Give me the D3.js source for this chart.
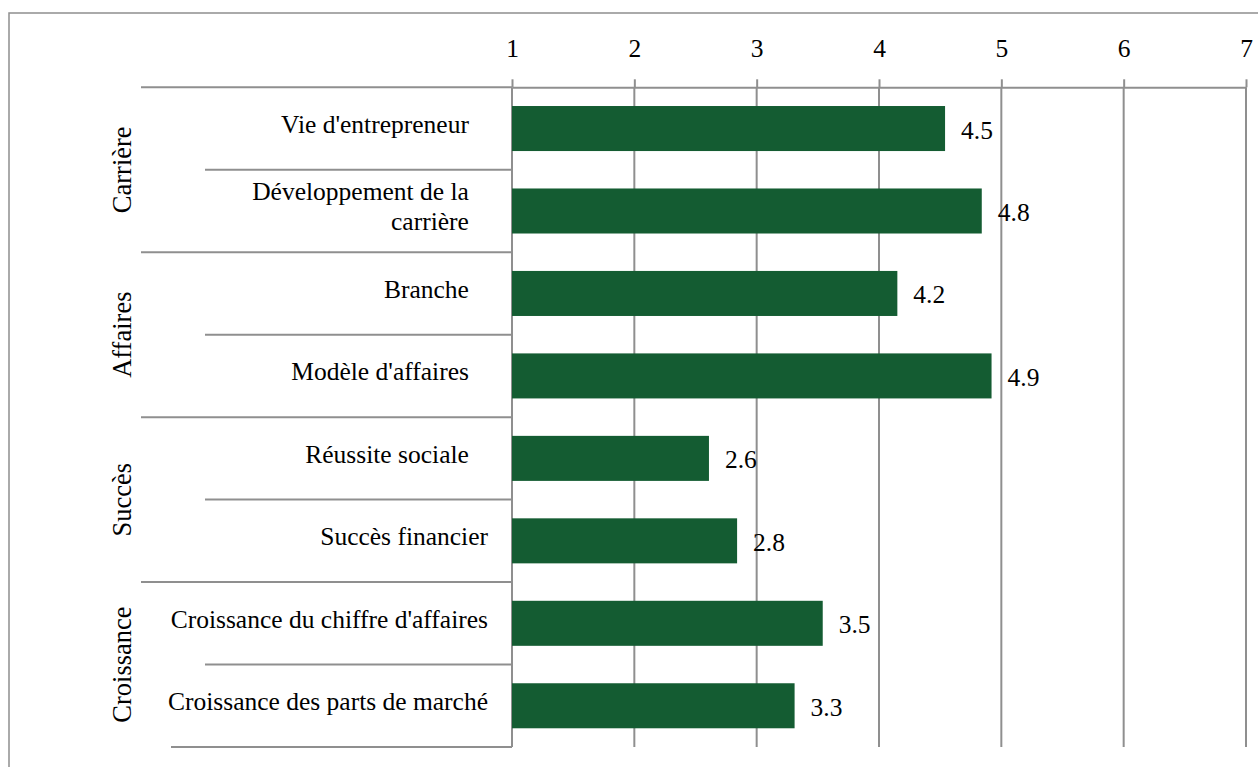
<!DOCTYPE html>
<html>
<head>
<meta charset="utf-8">
<script src="https://cdn.jsdelivr.net/npm/d3@7"></script>
<style>
  html, body { margin: 0; padding: 0; background: #fff; }
  svg { display: block; }
  svg text { font-family: 'Liberation Serif', 'Tinos', 'Times New Roman', 'DejaVu Serif', serif; }
</style>
</head>
<body>
<div id="chart"></div>
<script>
// Data
const groups = ["Carrière", "Affaires", "Succès", "Croissance"];
const categories = [
    "Vie d'entrepreneur\u00a0\u00a0\u00a0",
    "Développement de la\u00a0\u00a0\u00a0\ncarrière\u00a0\u00a0\u00a0",
    "Branche\u00a0\u00a0\u00a0",
    "Modèle d'affaires\u00a0\u00a0\u00a0",
    "Réussite sociale\u00a0\u00a0\u00a0",
    "Succès financier",
    "Croissance du chiffre d'affaires",
    "Croissance des parts de marché"
];
const categoryGroups = ["Carrière", "Carrière", "Affaires", "Affaires", "Succès", "Succès", "Croissance", "Croissance"];
const values = [4.54, 4.84, 4.15, 4.92, 2.61, 2.84, 3.54, 3.31];
const tickValues = [1, 2, 3, 4, 5, 6, 7];

const width = 1258, height = 767;
const plot = { left: 512, right: 1246, top: 87.3, bottom: 747 };
const barColor = '#145c32';
const lineColor = '#8f8f8f';

const data = categories.map((c, i) => ({ category: c, group: categoryGroups[i], value: values[i] }));

const svg = d3.select('#chart').append('svg')
    .attr('width', width)
    .attr('height', height);

svg.append('rect')
    .attr('width', width).attr('height', height)
    .attr('fill', '#fff');

// outer chart border (runs past the right and bottom edge)
svg.append('rect')
    .attr('x', 9).attr('y', 13)
    .attr('width', width + 20).attr('height', height + 20)
    .attr('fill', 'none')
    .attr('stroke', lineColor)
    .attr('stroke-width', 1.5);

// Scales
const x = d3.scaleLinear([1, 7], [plot.left, plot.right]);
const rows = d3.scaleBand(categories, [plot.top, plot.bottom]);
const y = d3.scaleBand(categories, [plot.top, plot.bottom])
    .paddingInner(0.454)
    .paddingOuter(0.227);

// Vertical gridlines
svg.append('g').selectAll('line')
    .data(tickValues)
    .join('line')
    .attr('x1', d => x(d)).attr('x2', d => x(d))
    .attr('y1', plot.top).attr('y2', plot.bottom)
    .attr('stroke', lineColor)
    .attr('stroke-width', 2);

// Top axis
const axis = svg.append('g')
    .attr('transform', `translate(0,${plot.top})`)
    .call(d3.axisTop(x).tickValues(tickValues).tickSize(8).tickSizeOuter(0).tickPadding(22).tickFormat(d3.format('d')));

axis.attr('font-family', null);
axis.select('.domain').attr('stroke', lineColor).attr('stroke-width', 2);
axis.selectAll('.tick line').attr('stroke', lineColor).attr('stroke-width', 2);
axis.selectAll('.tick text')
    .attr('fill', '#000')
    .style('font-size', '25.5px');

// Category separator lines (long at group boundaries, short inside a group)
const boundaries = d3.range(categories.length + 1);
svg.append('g').selectAll('line')
    .data(boundaries)
    .join('line')
    .attr('x1', i => {
        if (i === categories.length) return 171;
        return (i === 0 || categoryGroups[i] !== categoryGroups[i - 1]) ? 141 : 205;
    })
    .attr('x2', plot.left)
    .attr('y1', i => i < categories.length ? rows(categories[i]) : plot.bottom)
    .attr('y2', i => i < categories.length ? rows(categories[i]) : plot.bottom)
    .attr('stroke', lineColor)
    .attr('stroke-width', 2);

// Bars
svg.append('g').selectAll('rect')
    .data(data)
    .join('rect')
    .attr('x', x(1))
    .attr('y', d => y(d.category))
    .attr('width', d => x(d.value) - x(1))
    .attr('height', y.bandwidth())
    .attr('fill', barColor);

// Value labels
svg.append('g').selectAll('text')
    .data(data)
    .join('text')
    .attr('x', d => x(d.value) + 16)
    .attr('y', d => y(d.category) + y.bandwidth() / 2 + 10)
    .style('font-size', '25.5px')
    .attr('fill', '#000')
    .text(d => d3.format('.1f')(d.value));

// Category labels
const lineHeight = 30;
const catLabels = svg.append('g').selectAll('text')
    .data(data)
    .join('text')
    .attr('text-anchor', 'end')
    .style('font-size', '25.5px')
    .attr('fill', '#000');

catLabels.each(function (d) {
    const lines = d.category.split('\n');
    const cy = rows(d.category) + rows.bandwidth() / 2 - 4;
    const first = cy + 8.5 - (lines.length - 1) * lineHeight / 2;
    d3.select(this).selectAll('tspan')
        .data(lines)
        .join('tspan')
        .attr('x', 488)
        .attr('y', (l, j) => first + j * lineHeight)
        .text(l => l);
});

// Group labels (rotated)
svg.append('g').selectAll('text')
    .data(groups)
    .join('text')
    .attr('transform', g => {
        const members = categories.filter((c, i) => categoryGroups[i] === g);
        const cy = (rows(members[0]) + rows(members[members.length - 1]) + rows.bandwidth()) / 2;
        return `translate(131,${cy}) rotate(-90)`;
    })
    .attr('text-anchor', 'middle')
    .style('font-size', '26.5px')
    .attr('fill', '#000')
    .text(g => g);
</script>
</body>
</html>
